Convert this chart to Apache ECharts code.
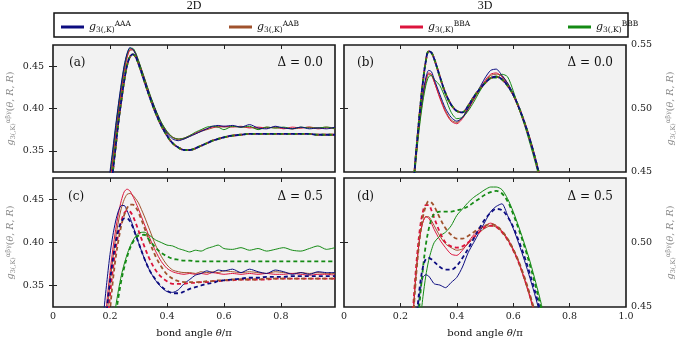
<!DOCTYPE html>
<html>
<head>
<meta charset="utf-8">
<script src="https://cdn.jsdelivr.net/npm/echarts@6/dist/echarts.min.js"></script>
<style>
  html, body { margin: 0; padding: 0; background: #fff; }
  #chart { width: 681px; height: 341px; }
</style>
</head>
<body>
<div id="chart"></div>
<script>
  // bond angles (theta/pi) for 2D (left) and 3D (right) columns
  var thetaL = [0.17,0.18,0.19,0.20,0.21,0.22,0.23,0.24,0.25,0.26,0.27,0.28,0.29,0.30,
                0.32,0.34,0.36,0.38,0.40,0.42,0.44,0.46,0.48,0.50,0.52,0.54,0.56,0.58,0.60,
                0.63,0.66,0.69,0.72,0.75,0.78,0.81,0.84,0.87,0.90,0.93,0.96,0.99];
  var thetaR = [0.23,0.24,0.25,0.26,0.27,0.28,0.29,0.30,0.31,0.32,
                0.34,0.36,0.38,0.40,0.42,0.44,0.46,0.48,0.50,0.52,
                0.54,0.56,0.58,0.60,0.62,0.64,0.66,0.68,0.70,0.72];

  // (a) 2D, delta = 0.0
  var aAAA = [0.23,0.26,0.295,0.325,0.352,0.380,0.406,0.430,0.451,0.465,0.472,0.470,0.464,0.455,
              0.435,0.415,0.398,0.382,0.371,0.364,0.362,0.364,0.367,0.370,0.373,0.376,0.379,0.380,0.379,
              0.380,0.378,0.381,0.377,0.376,0.379,0.377,0.376,0.378,0.376,0.377,0.376,0.378];
  var aAAB = [0.21,0.24,0.275,0.31,0.340,0.369,0.397,0.422,0.444,0.460,0.469,0.469,0.465,0.456,
              0.436,0.416,0.398,0.383,0.373,0.366,0.363,0.364,0.367,0.370,0.373,0.375,0.377,0.379,0.378,
              0.379,0.378,0.378,0.376,0.378,0.377,0.377,0.376,0.377,0.378,0.377,0.378,0.377];
  var aBBA = [0.21,0.24,0.275,0.31,0.340,0.370,0.398,0.423,0.445,0.461,0.469,0.470,0.465,0.456,
              0.437,0.416,0.398,0.383,0.372,0.366,0.364,0.365,0.368,0.371,0.374,0.376,0.378,0.378,0.379,
              0.378,0.379,0.377,0.378,0.377,0.378,0.376,0.378,0.377,0.378,0.376,0.377,0.376];
  var aBBB = [0.22,0.25,0.285,0.32,0.348,0.377,0.404,0.428,0.449,0.464,0.471,0.471,0.466,0.457,
              0.437,0.417,0.399,0.384,0.373,0.366,0.364,0.365,0.368,0.372,0.375,0.378,0.379,0.378,0.375,
              0.379,0.378,0.379,0.375,0.378,0.377,0.378,0.376,0.378,0.377,0.377,0.378,0.376];
  var aTheory = [0.20,0.23,0.26,0.29,0.325,0.355,0.385,0.410,0.433,0.451,0.461,0.464,0.461,0.453,
                 0.433,0.413,0.395,0.380,0.368,0.359,0.354,0.351,0.351,0.353,0.356,0.359,0.362,0.364,0.366,
                 0.368,0.369,0.370,0.370,0.370,0.370,0.370,0.370,0.370,0.370,0.369,0.369,0.369];

  // (b) 3D, delta = 0.0
  var bAAA = [0.38,0.42,0.452,0.476,0.496,0.512,0.524,0.530,0.529,0.523,
              0.511,0.500,0.493,0.490,0.493,0.500,0.508,0.516,0.524,0.530,
              0.531,0.526,0.520,0.512,0.501,0.489,0.475,0.459,0.441,0.42];
  var bAAB = [0.38,0.416,0.448,0.472,0.492,0.508,0.520,0.527,0.526,0.521,
              0.509,0.498,0.491,0.489,0.493,0.500,0.507,0.514,0.521,0.526,
              0.527,0.526,0.520,0.511,0.500,0.489,0.475,0.459,0.441,0.42];
  var bBBA = [0.38,0.418,0.450,0.474,0.494,0.510,0.522,0.528,0.527,0.521,
              0.508,0.497,0.490,0.488,0.492,0.499,0.507,0.515,0.522,0.527,
              0.528,0.525,0.519,0.510,0.500,0.488,0.474,0.458,0.440,0.42];
  var bBBB = [0.37,0.41,0.445,0.470,0.490,0.506,0.518,0.525,0.526,0.523,
              0.518,0.508,0.497,0.492,0.493,0.498,0.505,0.513,0.520,0.524,
              0.524,0.527,0.525,0.514,0.500,0.487,0.472,0.456,0.438,0.42];
  var bTheory = [0.37,0.41,0.450,0.476,0.500,0.521,0.537,0.545,0.544,0.539,
                 0.525,0.512,0.503,0.498,0.497,0.502,0.509,0.515,0.520,0.524,
                 0.525,0.523,0.518,0.511,0.501,0.489,0.475,0.459,0.441,0.42];

  // (c) 2D, delta = 0.5
  var cAAA = [0.28,0.325,0.357,0.386,0.408,0.425,0.437,0.443,0.443,0.437,0.429,0.420,0.410,0.400,
              0.382,0.367,0.356,0.348,0.343,0.342,0.345,0.352,0.357,0.362,0.364,0.367,0.365,0.368,0.367,
              0.369,0.365,0.369,0.366,0.364,0.368,0.366,0.363,0.365,0.363,0.366,0.365,0.365];
  var cAAB = [0.23,0.27,0.315,0.352,0.381,0.405,0.425,0.440,0.450,0.456,0.457,0.455,0.451,0.446,
              0.431,0.414,0.397,0.384,0.374,0.368,0.366,0.365,0.365,0.364,0.366,0.365,0.366,0.365,0.367,
              0.366,0.365,0.366,0.365,0.364,0.366,0.365,0.364,0.365,0.364,0.365,0.364,0.364];
  var cBBA = [0.25,0.29,0.333,0.365,0.392,0.415,0.434,0.449,0.459,0.462,0.460,0.454,0.447,0.439,
              0.422,0.405,0.390,0.378,0.370,0.366,0.364,0.363,0.364,0.363,0.364,0.363,0.365,0.364,0.363,
              0.364,0.363,0.364,0.363,0.364,0.363,0.363,0.364,0.363,0.362,0.363,0.363,0.362];
  var cBBB = [0.20,0.22,0.24,0.265,0.295,0.325,0.345,0.362,0.375,0.386,0.395,0.402,0.407,0.411,
              0.412,0.408,0.403,0.400,0.397,0.396,0.393,0.391,0.389,0.391,0.390,0.393,0.395,0.397,0.393,
              0.392,0.394,0.391,0.393,0.390,0.392,0.394,0.391,0.390,0.393,0.396,0.392,0.394];
  var cAAAth = [0.24,0.28,0.325,0.355,0.380,0.400,0.415,0.424,0.428,0.428,0.425,0.418,0.409,0.400,
                0.382,0.367,0.357,0.349,0.344,0.341,0.341,0.343,0.346,0.348,0.350,0.352,0.353,0.355,0.356,
                0.357,0.358,0.359,0.359,0.360,0.360,0.360,0.361,0.361,0.361,0.361,0.361,0.361];
  var cAABth = [0.20,0.24,0.28,0.32,0.355,0.382,0.403,0.420,0.432,0.440,0.444,0.444,0.441,0.435,
                0.418,0.400,0.384,0.372,0.363,0.358,0.355,0.354,0.354,0.354,0.354,0.355,0.355,0.356,0.356,
                0.357,0.357,0.357,0.357,0.358,0.358,0.358,0.358,0.358,0.358,0.358,0.358,0.358];
  var cBBAth = [0.22,0.26,0.30,0.338,0.368,0.392,0.411,0.425,0.434,0.437,0.436,0.431,0.423,0.414,
                0.396,0.380,0.368,0.360,0.355,0.352,0.352,0.352,0.353,0.353,0.354,0.354,0.355,0.355,0.356,
                0.356,0.357,0.357,0.357,0.357,0.358,0.358,0.358,0.358,0.358,0.358,0.358,0.358];
  var cBBBth = [0.18,0.20,0.23,0.26,0.29,0.315,0.337,0.356,0.371,0.383,0.393,0.400,0.405,0.408,
                0.409,0.402,0.394,0.388,0.384,0.381,0.380,0.379,0.379,0.378,0.378,0.378,0.378,0.378,0.378,
                0.378,0.378,0.378,0.378,0.378,0.378,0.378,0.378,0.378,0.378,0.378,0.378,0.378];

  // (d) 3D, delta = 0.5
  var dAAA = [0.38,0.40,0.425,0.445,0.462,0.473,0.475,0.474,0.471,0.468,
              0.467,0.465,0.469,0.473,0.481,0.492,0.500,0.508,0.516,0.524,
              0.528,0.530,0.521,0.511,0.499,0.486,0.472,0.457,0.44,0.42];
  var dAAB = [0.38,0.425,0.460,0.487,0.506,0.516,0.520,0.520,0.517,0.513,
              0.505,0.499,0.496,0.494,0.495,0.499,0.504,0.508,0.511,0.513,
              0.512,0.508,0.502,0.494,0.484,0.471,0.457,0.441,0.42,0.40];
  var dBBA = [0.38,0.425,0.460,0.487,0.506,0.516,0.520,0.519,0.515,0.510,
              0.502,0.496,0.491,0.490,0.494,0.500,0.506,0.510,0.513,0.515,
              0.513,0.509,0.503,0.495,0.485,0.472,0.458,0.442,0.42,0.40];
  var dBBB = [0.33,0.36,0.39,0.415,0.438,0.458,0.474,0.486,0.494,0.500,
              0.505,0.508,0.513,0.521,0.526,0.531,0.535,0.538,0.541,0.543,
              0.543,0.541,0.534,0.524,0.512,0.499,0.485,0.469,0.452,0.43];
  var dAAAth = [0.36,0.39,0.42,0.448,0.468,0.481,0.487,0.488,0.487,0.485,
                0.481,0.479,0.479,0.482,0.488,0.495,0.503,0.511,0.518,0.523,
                0.526,0.525,0.520,0.512,0.501,0.489,0.475,0.460,0.443,0.42];
  var dAABth = [0.37,0.420,0.457,0.485,0.506,0.520,0.528,0.532,0.531,0.528,
                0.519,0.511,0.506,0.503,0.503,0.505,0.508,0.511,0.513,0.514,
                0.513,0.509,0.503,0.495,0.485,0.473,0.459,0.443,0.42,0.40];
  var dBBAth = [0.38,0.430,0.465,0.492,0.512,0.524,0.529,0.529,0.525,0.519,
                0.508,0.500,0.497,0.496,0.497,0.500,0.504,0.508,0.512,0.513,
                0.512,0.508,0.502,0.494,0.484,0.472,0.458,0.442,0.42,0.40];
  var dBBBth = [0.34,0.37,0.40,0.43,0.458,0.480,0.498,0.510,0.518,0.522,
                0.524,0.524,0.524,0.525,0.526,0.528,0.531,0.534,0.537,0.539,
                0.540,0.538,0.532,0.522,0.510,0.497,0.482,0.466,0.448,0.43];

  var names = ['AAA', 'AAB', 'BBA', 'BBB'];
  var colors = { AAA: '#0c0c80', AAB: '#a0522d', BBA: '#dc143c', BBB: '#148a14' };
  var serif = 'DejaVu Serif';

  function pts(xs, ys) {
    return xs.map(function (x, i) { return [x, ys[i]]; });
  }
  function sim(name, g, xs, ys) {
    return {
      name: name, type: 'line', xAxisIndex: 2 * g, yAxisIndex: 2 * g,
      data: pts(xs, ys), symbol: 'none', smooth: 0.25, z: 2, silent: true,
      itemStyle: { color: colors[name] },
      lineStyle: { width: 1, color: colors[name] }
    };
  }
  function theo(name, g, xs, ys, off) {
    return {
      name: name, type: 'line', xAxisIndex: 2 * g, yAxisIndex: 2 * g,
      data: pts(xs, ys), symbol: 'none', smooth: 0.35, z: 3, silent: true,
      itemStyle: { color: colors[name] },
      lineStyle: { width: 1.8, color: colors[name], type: [4, 3], dashOffset: off }
    };
  }

  var grids = [
    { left: 53, top: 45, width: 282, height: 127 },
    { left: 344, top: 45, width: 282, height: 127 },
    { left: 53, top: 178, width: 282, height: 129 },
    { left: 344, top: 178, width: 282, height: 129 }
  ].map(function (g) {
    g.show = true; g.backgroundColor = '#f2f2f2';
    g.borderColor = '#1a1a1a'; g.borderWidth = 1.6;
    return g;
  });

  var yName = '{g|g}{sub|3(,K)}{sup|αβγ}{n|(}{g|θ}{n|, }{g|R}{n|, }{g|R}{n|)}';
  var yRich = {
    g: { fontFamily: serif, fontStyle: 'italic', fontSize: 9.5, color: '#8a8a8a', lineHeight: 12 },
    n: { fontFamily: serif, fontSize: 9.5, color: '#8a8a8a', lineHeight: 12 },
    sub: { fontFamily: serif, fontSize: 6.5, color: '#8a8a8a', verticalAlign: 'bottom' },
    sup: { fontFamily: serif, fontSize: 6.5, color: '#8a8a8a', verticalAlign: 'top' }
  };

  var xAxes = [], yAxes = [];
  [0, 1, 2, 3].forEach(function (g) {
    var leftCol = g % 2 === 0, bottomRow = g >= 2;
    var xmax = leftCol ? 0.99 : 1.0;
    var xl = leftCol ? [0, 0.2, 0.4, 0.6, 0.8] : [0, 0.2, 0.4, 0.6, 0.8, 1.0];
    ['bottom', 'top'].forEach(function (pos) {
      xAxes.push({
        gridIndex: g, type: 'value', min: 0, max: xmax, position: pos,
        axisLine: { show: false }, splitLine: { show: false },
        axisTick: { inside: true, length: 4, customValues: [0.2, 0.4, 0.6, 0.8], lineStyle: { color: '#222' } },
        axisLabel: {
          show: bottomRow && pos === 'bottom', customValues: xl, margin: 5,
          fontFamily: serif, fontSize: 9.5, color: '#222',
          formatter: function (v) { return v === 0 ? '0' : v.toFixed(1); }
        },
        name: bottomRow && pos === 'bottom' ? '{n|bond angle }{i|θ}{n|/π}' : '',
        nameLocation: 'middle', nameGap: 21,
        nameTextStyle: {
          rich: {
            n: { fontFamily: serif, fontSize: 10, color: '#111' },
            i: { fontFamily: serif, fontSize: 10, fontStyle: 'italic', color: '#111' }
          }
        }
      });
    });
    var ymin = leftCol ? 0.325 : 0.45, ymax = leftCol ? 0.475 : 0.55;
    var yt = leftCol ? [0.35, 0.40, 0.45] : [0.50];
    var yl = leftCol ? [0.35, 0.40, 0.45] : (bottomRow ? [0.45, 0.50] : [0.45, 0.50, 0.55]);
    ['left', 'right'].forEach(function (pos) {
      var labelled = (leftCol && pos === 'left') || (!leftCol && pos === 'right');
      yAxes.push({
        gridIndex: g, type: 'value', min: ymin, max: ymax, position: pos,
        axisLine: { show: false }, splitLine: { show: false },
        axisTick: { inside: true, length: 4, customValues: yt, lineStyle: { color: '#222' } },
        axisLabel: {
          show: labelled, customValues: yl, margin: leftCol ? 9 : 5,
          fontFamily: serif, fontSize: 9.5, color: '#222',
          formatter: function (v) { return v.toFixed(2); }
        },
        name: labelled ? yName : '',
        nameLocation: 'middle', nameRotate: 90, nameGap: leftCol ? 36 : 39,
        nameTextStyle: { rich: yRich }
      });
    });
  });

  var series = [];
  // simulation (solid) curves
  [[aAAA, aAAB, aBBA, aBBB], [bAAA, bAAB, bBBA, bBBB],
   [cAAA, cAAB, cBBA, cBBB], [dAAA, dAAB, dBBA, dBBB]].forEach(function (set, g) {
    var xs = g % 2 === 0 ? thetaL : thetaR;
    [1, 2, 3, 0].forEach(function (k) { series.push(sim(names[k], g, xs, set[k])); });
  });
  // theory (dashed) curves
  [[aTheory, aTheory, aTheory, aTheory], [bTheory, bTheory, bTheory, bTheory],
   [cAAAth, cAABth, cBBAth, cBBBth], [dAAAth, dAABth, dBBAth, dBBBth]].forEach(function (set, g) {
    var xs = g % 2 === 0 ? thetaL : thetaR;
    var offs = [0, 3.5, 3.5, 5];
    [2, 1, 3, 0].forEach(function (k) { series.push(theo(names[k], g, xs, set[k], offs[k])); });
  });

  var legendX = [61, 229, 400, 568];
  var legends = names.map(function (n, i) {
    return {
      data: [n], left: legendX[i], top: 20, padding: 0, icon: 'rect',
      itemWidth: 23, itemHeight: 3, itemGap: 4, selectedMode: false,
      formatter: '{g|g}{sub|3(,K)}{sup|{name}}',
      textStyle: {
        rich: {
          g: { fontFamily: serif, fontStyle: 'italic', fontSize: 11, color: '#111', lineHeight: 14 },
          sub: { fontFamily: serif, fontSize: 7.5, color: '#111', verticalAlign: 'bottom' },
          sup: { fontFamily: serif, fontSize: 7.5, color: '#111', verticalAlign: 'top' }
        }
      }
    };
  });

  function label(x, y, text, align) {
    return {
      type: 'text', x: x, y: y, silent: true,
      style: { text: text, font: '12px "DejaVu Serif"', fill: '#111', align: align || 'left', verticalAlign: 'middle' }
    };
  }

  var option = {
    animation: false,
    backgroundColor: '#ffffff',
    grid: grids,
    xAxis: xAxes,
    yAxis: yAxes,
    legend: legends,
    series: series,
    graphic: [
      {
        type: 'rect', silent: true,
        shape: { x: 54, y: 13, width: 574, height: 24 },
        style: { fill: 'none', stroke: '#111', lineWidth: 1.5 }
      },
      {
        type: 'text', x: 194, y: 6, silent: true,
        style: { text: '2D', font: '12px "Liberation Serif"', fill: '#111', align: 'center', verticalAlign: 'middle' }
      },
      {
        type: 'text', x: 485, y: 6, silent: true,
        style: { text: '3D', font: '12px "Liberation Serif"', fill: '#111', align: 'center', verticalAlign: 'middle' }
      },
      label(69, 63, '(a)'),
      label(357, 63, '(b)'),
      label(68, 197, '(c)'),
      label(357, 197, '(d)'),
      label(323, 63, 'Δ = 0.0', 'right'),
      label(613, 63, 'Δ = 0.0', 'right'),
      label(323, 197, 'Δ = 0.5', 'right'),
      label(613, 197, 'Δ = 0.5', 'right')
    ]
  };

  var myChart = echarts.init(document.getElementById('chart'));
  myChart.setOption(option);
</script>
</body>
</html>
